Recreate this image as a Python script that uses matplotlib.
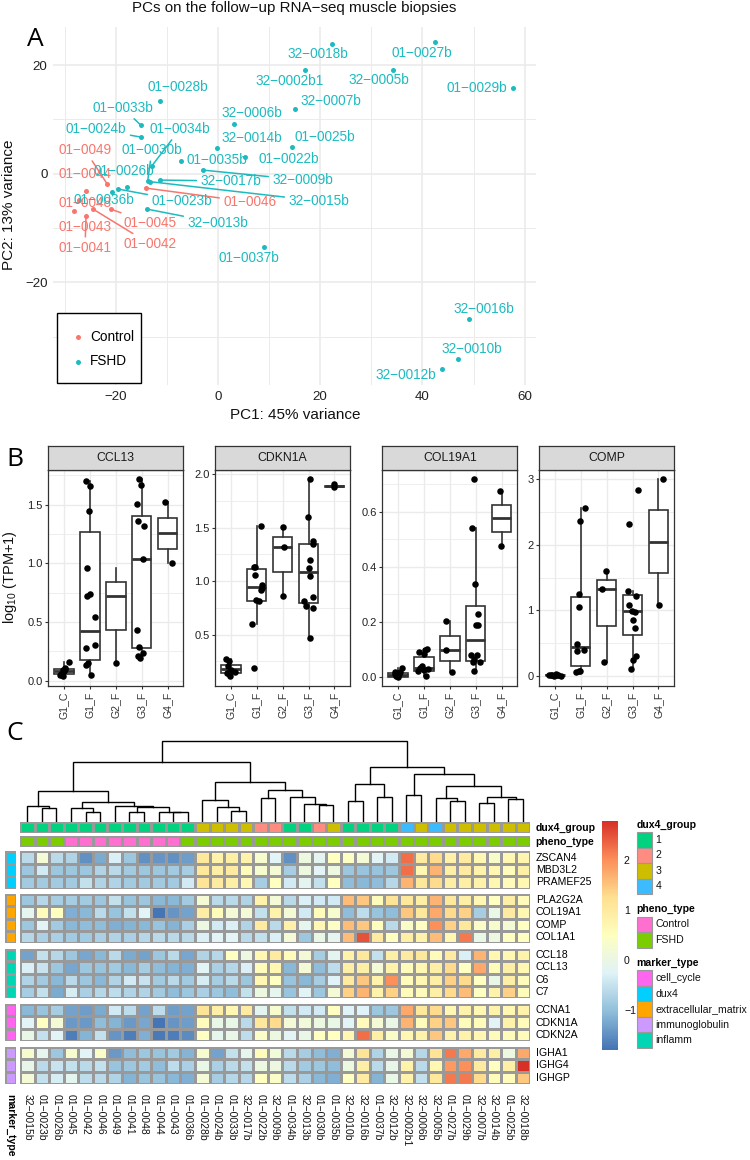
import numpy as np
import matplotlib
matplotlib.use('Agg')
import matplotlib.pyplot as plt
from matplotlib.colors import LinearSegmentedColormap, ListedColormap, BoundaryNorm
from matplotlib.patches import Rectangle
from matplotlib.ticker import MultipleLocator

W, H = 750, 1160
plt.rcParams['font.family'] = ['Liberation Sans', 'DejaVu Sans']
plt.rcParams['mathtext.default'] = 'regular'

# panel A
control_ids = ['01-0049', '01-0044', '01-0048', '01-0043', '01-0041', '01-0042', '01-0045', '01-0046']
control_pc1 = [-21.69, -25.8, -27.1, -28.08, -25.8, -24.36, -20.85, -14.14]
control_pc2 = [-1.84, -3.19, -4.85, -6.81, -7.79, -6.56, -6.56, -2.64]
fshd_ids = ['01-0028b', '01-0033b', '01-0024b', '01-0034b', '01-0030b', '01-0026b', '01-0035b',
            '32-0006b', '32-0014b', '01-0025b', '01-0022b', '32-0009b', '32-0017b', '32-0015b',
            '01-0023b', '32-0013b', '01-0036b', '01-0037b', '32-0018b', '32-0002b1', '32-0007b',
            '32-0005b', '01-0027b', '01-0029b', '32-0016b', '32-0010b', '32-0012b']
fshd_pc1 = [-11.34, -15.05, -15.11, -12.9, -13.75, -17.85, -7.17, 3.06, -0.26, 14.53, 5.34, -3.0, -11.27,
            -13.22, -19.54, -13.94, -20.78, 8.93, 22.3, 17.0, 15.1, 34.2, 42.5, 57.7, 49.1, 46.9, 43.75]
fshd_pc2 = [13.44, 8.9, 6.75, 1.47, -1.35, -2.52, 2.27, 9.14, 4.66, 4.85, 3.0, 0.67, -1.17,
            -1.47, -2.82, -6.5, -3.31, -13.5, 23.9, 19.1, 11.9, 19.1, 24.2, 15.7, -26.8, -34.2, -36.0]

# where ggrepel left the labels, in image pixels
label_px = {
    '01-0049': (85, 150), '01-0044': (85, 174), '01-0048': (85, 203), '01-0043': (85, 227),
    '01-0041': (85, 248), '01-0042': (150, 244), '01-0045': (150, 223), '01-0046': (250, 202),
    '01-0028b': (178, 87), '01-0033b': (123, 108), '01-0024b': (96, 129), '01-0034b': (180, 129),
    '01-0030b': (152, 150), '01-0026b': (124, 171), '01-0035b': (217, 160), '32-0006b': (252, 113),
    '32-0014b': (252, 138), '01-0025b': (325, 137), '01-0022b': (289, 159), '32-0009b': (303, 180),
    '32-0017b': (231, 181), '32-0015b': (319, 201), '01-0023b': (182, 201), '32-0013b': (218, 223),
    '01-0036b': (104, 200), '01-0037b': (249, 258), '32-0018b': (318, 54), '32-0002b1': (290, 81),
    '32-0007b': (331, 101), '32-0005b': (379, 80), '01-0027b': (422, 53), '01-0029b': (477, 88),
    '32-0016b': (484, 309), '32-0010b': (472, 349), '32-0012b': (406, 375),
}
with_segment = ['01-0049', '01-0041', '01-0042', '01-0045', '01-0046', '01-0033b', '01-0024b', '01-0034b',
                '01-0030b', '32-0009b', '32-0017b', '32-0015b', '01-0023b', '32-0013b']

# panel B
groups = ['G1_C', 'G1_F', 'G2_F', 'G3_F', 'G4_F']
genes = ['CCL13', 'CDKN1A', 'COL19A1', 'COMP']
# box stats per group: low whisker, q1, median, q3, high whisker
ccl13_stats = [(0.04, 0.057, 0.08, 0.10, 0.16), (0.045, 0.18, 0.42, 1.27, 1.70), (0.15, 0.43, 0.72, 0.84, 0.96),
               (0.19, 0.275, 1.035, 1.40, 1.72), (1.0, 1.125, 1.26, 1.39, 1.52)]
ccl13_x = [1.19, 1.03, 0.95, 1.0, 0.87, 0.95, 0.85, 1.04, 1.835, 1.99, 1.96, 1.99, 2.18, 2.2, 1.835, 1.85, 1.91, 2.04,
           1.9, 1.9, 3.0, 3.91, 3.97, 3.81, 3.85, 4.1, 4.06, 3.82, 3.89, 4.05, 3.87, 3.92, 4.91, 5.18]
ccl13_y = [0.16, 0.11, 0.09, 0.08, 0.057, 0.04, 0.045, 0.097, 1.70, 1.66, 1.45, 0.74, 0.54, 0.305, 0.28, 0.13, 0.15, 0.045,
           0.96, 0.72, 0.15, 1.72, 1.67, 1.51, 1.36, 1.32, 1.035, 0.43, 0.29, 0.24, 0.21, 0.19, 1.52, 1.0]
cdkn1a_stats = [(0.115, 0.146, 0.18, 0.22, 0.27), (0.60, 0.815, 0.945, 1.11, 1.51), (0.86, 1.085, 1.315, 1.41, 1.505),
                (0.465, 0.795, 1.085, 1.35, 1.95), (1.88, 1.878, 1.885, 1.892, 1.91)]
cdkn1a_x = [0.82, 0.91, 0.885, 1.17, 1.0, 0.85, 0.97, 0.91, 2.17, 1.9, 1.95, 1.94, 2.19, 2.2, 2.17, 1.96, 2.1, 1.83, 1.9,
            3.03, 3.07, 3.0, 4.04, 3.99, 4.19, 4.19, 4.06, 4.0, 4.04, 4.18, 3.84, 3.89, 4.18, 4.04, 5.0, 5.0]
cdkn1a_y = [0.27, 0.25, 0.21, 0.155, 0.17, 0.14, 0.115, 0.13, 1.51, 1.13, 1.13, 1.055, 0.96, 0.935, 0.92, 0.825, 0.81, 0.60, 0.186,
            1.505, 1.315, 0.86, 1.95, 1.6, 1.37, 1.35, 1.195, 1.125, 1.05, 0.85, 0.81, 0.765, 0.75, 0.465, 1.91, 1.88]
col19a1_stats = [(0.0, 0.0, 0.005, 0.013, 0.03), (0.002, 0.022, 0.03, 0.07, 0.10), (0.018, 0.057, 0.097, 0.149, 0.202),
                 (0.02, 0.058, 0.133, 0.256, 0.54), (0.476, 0.525, 0.575, 0.625, 0.675)]
col19a1_x = [0.87, 1.15, 0.96, 1.0, 1.05, 0.9, 0.92, 1.09, 2.12, 1.83, 2.0, 2.05, 1.92, 1.79, 1.85, 1.99, 2.15, 2.08,
             2.86, 2.86, 3.09, 3.95, 3.86, 3.97, 4.09, 4.0, 4.08, 3.81, 4.03, 3.92, 4.17, 3.88, 3.95, 4.92, 4.96]
col19a1_y = [0.016, 0.03, 0.004, 0.0, 0.01, 0.01, 0.001, 0.016, 0.10, 0.09, 0.082, 0.095, 0.04, 0.022, 0.03, 0.025, 0.028, 0.002,
             0.202, 0.097, 0.018, 0.718, 0.54, 0.337, 0.229, 0.188, 0.188, 0.08, 0.08, 0.064, 0.052, 0.052, 0.02, 0.675, 0.476]
comp_stats = [(0.0, 0.008, 0.015, 0.02, 0.03), (0.056, 0.15, 0.44, 1.2, 2.56), (0.215, 0.765, 1.32, 1.46, 1.6),
              (0.10, 0.62, 0.985, 1.24, 1.30), (1.09, 1.57, 2.05, 2.53, 3.01)]
comp_x = [0.77, 0.9, 1.03, 1.09, 1.22, 0.97, 0.87, 1.12, 2.18, 1.97, 1.95, 1.95, 1.85, 1.86, 2.12, 1.95, 1.81, 1.97,
          2.97, 2.82, 2.88, 4.2, 3.86, 3.83, 4.15, 3.86, 3.97, 4.08, 4.03, 4.1, 4.15, 4.0, 3.94, 5.19, 5.03]
comp_y = [0.015, 0.02, 0.03, 0.01, 0.005, 0.0, 0.01, 0.02, 2.56, 2.37, 1.25, 1.05, 0.487, 0.38, 0.40, 0.077, 0.056, 0.08,
          1.6, 1.32, 0.215, 2.84, 2.32, 1.30, 1.22, 1.09, 0.985, 0.98, 0.86, 0.73, 0.31, 0.24, 0.10, 3.01, 1.09]

# panel C
samples = ['32-0015b', '01-0023b', '01-0026b', '01-0045', '01-0042', '01-0046', '01-0049', '01-0041', '01-0048',
           '01-0044', '01-0043', '01-0036b', '01-0028b', '01-0024b', '01-0033b', '32-0017b', '01-0022b', '32-0009b',
           '01-0034b', '32-0013b', '01-0030b', '01-0035b', '32-0010b', '32-0016b', '01-0037b', '32-0012b', '32-0002b1',
           '32-0006b', '32-0005b', '01-0027b', '01-0029b', '32-0007b', '32-0014b', '01-0025b', '32-0018b']
dux4_group = [1] * 12 + [3, 3, 3, 3, 2, 2, 1, 1, 2, 3, 1, 1, 1, 1, 4, 3, 4, 3, 3, 3, 3, 3, 3]
pheno_type = ['FSHD'] * 3 + ['Control'] * 8 + ['FSHD'] * 24
ZSCAN4 = [-.6, .2, -.6, -.7, -1.5, -1.2, -.3, -.9, -1.5, -1.45, -1.5, -1.35, 1.1, .8, .9, .8, .3, -.2,
          -1.5, .1, -.15, .5, .45, .2, -.2, -.4, 2.3, 1.0, 1.3, .85, 1.0, .7, .35, .7, .75]
MBD3L2 = [-.9, -.4, -.9, -.9, -.9, -.7, -.6, -.85, -.9, -.9, -.85, -.8, 1.1, .9, 1.0, .6, .3, .2,
          -.8, .1, -.2, .1, -.9, -.95, -.95, -.9, 2.3, .7, 1.7, .9, 1.0, .8, .7, .6, .9]
PRAMEF25 = [-.85, -.85, -.85, -.85, -.5, -.7, -.7, -.85, -.85, -.85, -.85, -.4, 1.2, 1.0, .9, .7, -.8, .5,
            -.4, -.15, -.5, .5, -1.0, -1.05, -1.0, -.65, 1.7, 1.1, 1.3, .9, .9, .8, .7, .6, .7]
PLA2G2A = [-.9, -.65, -.8, -.8, -.85, -.9, -.5, -.95, -.9, -1.05, -1.05, -.85, .2, -.6, -.6, -.7, .8, .2,
           -.6, -.3, -.4, -.4, 1.6, 1.5, .6, 1.2, 1.1, .9, 1.7, 1.1, .9, .7, .5, .9, .6]
COL19A1 = [-.1, .6, .5, -1.15, -1.05, -.6, -.95, -.5, -.2, -1.75, -1.45, -1.3, .95, .6, .2, .2, -.5, .8,
           .2, -.4, .6, .3, -1.0, -.55, -.95, -1.0, 1.5, 1.1, 1.8, 1.3, 1.4, -.8, .0, 1.0, .7]
COMP = [-.9, -.2, -.85, -1.05, -1.0, -1.0, -1.15, -1.1, -1.05, -.95, -1.1, -.75, .1, -.4, -.3, -.7, 1.0, -.6,
        .85, -.1, .7, .45, 1.6, 1.5, .55, -.6, .4, .5, 2.0, 1.4, 1.1, .4, .3, .2, .5]
COL1A1 = [-.65, -.75, -.75, -.85, -.85, -.75, -.7, -.75, -.65, -.6, -.6, -.6, -.3, -.2, -.2, -.6, -.5, -.3,
          .2, -.9, -.0, -.1, 1.6, 2.5, 1.0, .5, .9, .8, 1.6, .7, 2.2, .0, .1, .5, .5]
CCL18 = [-1.3, -.5, -.65, -.9, -1.25, -1.05, -.6, -1.2, -1.3, -.9, -.6, -1.25, -.7, -.65, .5, .1, .7, 1.0,
         .6, .2, -.8, -.15, .8, 1.1, -.5, .9, 1.0, 1.1, .6, 1.0, -.3, 1.7, .7, .7, .8]
CCL13 = [-.3, -.45, -.9, -1.25, -.9, -.95, -.85, -1.05, -.8, -1.0, -1.1, -1.15, -.2, -.75, -.65, -.3, .6, .7,
         -1.05, .2, -1.0, -.55, .9, .9, .2, .8, .6, .7, .9, 1.3, .5, 1.8, .6, .9, .7]
C6 = [-.7, -.85, -1.05, -.6, -.9, -1.05, -.7, -.4, -.45, -.85, -.6, -.85, -.35, -.8, -.6, -.9, .7, .5,
      -.95, -1.05, -.8, -.25, 1.0, 1.5, .8, 2.0, .6, .7, .9, 1.4, 1.3, .5, .0, .9, .6]
C7 = [-.8, -.5, -1.2, -.35, -.75, -.65, -.55, -.7, -.7, -.85, -1.0, -.9, -.75, -.9, -1.0, -.5, .1, -.1,
      -.95, -.2, -.9, .2, 1.4, 1.7, .8, 1.4, .6, .6, .9, 1.3, 1.6, .5, .8, 1.4, .6]
CCNA1 = [-1.05, -.95, -.8, -1.3, -1.35, -1.2, -.4, -.55, -1.3, -.55, -1.35, -1.3, 1.2, .9, .7, 1.0, -.15, .3,
         -.5, -.4, -.4, .5, -.25, -.25, -.9, -.9, 1.8, 1.1, 1.3, .7, .8, .7, .8, .7, .8]
CDKN1A = [-.2, .5, .2, -1.4, -1.4, -1.0, -1.1, -1.4, -1.25, -1.75, -1.45, -1.35, .6, .0, .0, -.6, 1.1, 1.3,
          .2, .15, .1, .0, -.2, .6, .2, .0, 1.7, .6, 1.4, 1.5, .6, .6, -.2, .8, .6]
CDKN2A = [.0, -.5, -.2, -1.65, -1.1, -.5, -1.45, -1.65, -1.15, -1.7, -1.65, -1.55, .5, -.1, .0, -.55, .4, .1,
          -.2, .0, .5, .5, .7, 2.3, .9, .4, .7, .8, 1.5, .8, .8, .7, .6, .6, .6]
IGHA1 = [.3, -.1, -.9, .3, -.2, .4, -1.4, -1.0, -.9, -.95, -.85, -1.1, .3, -1.3, -.5, -.1, .6, .15,
         -.6, -.8, -1.0, -1.15, .2, 1.2, -.7, .0, .2, -.65, 1.2, 2.2, 1.8, 1.0, .9, .1, 1.8]
IGHG4 = [-.05, -.6, -.45, -.5, -.6, -.5, -.95, -.9, -.85, -1.0, -.55, -.75, .0, -.75, -.6, -.5, .1, .1,
         -.6, -.85, -.9, -1.0, .1, .9, -.6, -.05, .8, -.6, .7, 1.9, 2.0, 1.0, .5, .9, 2.8]
IGHGP = [.2, -.5, -.35, -.15, -.55, -.6, -.7, -1.1, -.95, -.95, -1.05, -1.15, .2, -.8, -.65, -.65, .5, .4,
         -.55, -.75, -1.05, -1.15, .5, 1.0, -1.1, .0, .8, -.5, 1.1, 2.2, 2.2, 1.3, .6, .6, 1.5]

dux4_block = [('ZSCAN4', ZSCAN4), ('MBD3L2', MBD3L2), ('PRAMEF25', PRAMEF25)]
ecm_block = [('PLA2G2A', PLA2G2A), ('COL19A1', COL19A1), ('COMP', COMP), ('COL1A1', COL1A1)]
inflamm_block = [('CCL18', CCL18), ('CCL13', CCL13), ('C6', C6), ('C7', C7)]
cycle_block = [('CCNA1', CCNA1), ('CDKN1A', CDKN1A), ('CDKN2A', CDKN2A)]
ig_block = [('IGHA1', IGHA1), ('IGHG4', IGHG4), ('IGHGP', IGHGP)]

# dendrogram merges: (height, left, right), ints are column numbers
left_tree = (58.7,
             (30, (14.7, 0, (12.7, 1, 2)),
              (18.7, (12.7, 3, (8.3, 4, 5)), (15, 6, (14, (8.3, 7, 8), (9, 9, (8.3, 10, 11)))))),
             (39, (20.7, 12, (14, 13, (10, 14, 15))),
              (30.5, (22.3, 16, 17), (24, 18, (16.7, 19, (15.7, 20, 21))))))
right_tree = (53.7,
              (36.3, (20, 22, 23), (23.3, 24, 25)),
              (46.7, (25.7, 26, 27),
               (34.7, (22.3, 28, (19.7, 29, 30)), (24, (17.3, 31, 32), (21.7, 33, 34)))))
tree = (79.7, left_tree, right_tree)

RED, TEAL = '#F8766D', '#1DBBC0'
GRID = '#ebebeb'
group_colors = {1: '#00D27F', 2: '#FF8C80', 3: '#CDBE00', 4: '#3DBBFF'}
pheno_colors = {'Control': '#FF6FCF', 'FSHD': '#7CCD00'}
marker_colors = {'cell_cycle': '#FF66F0', 'dux4': '#00CFFF', 'extracellular_matrix': '#FFA500',
                 'immunoglobulin': '#CC99FF', 'inflamm': '#00D6B4'}
heat_vmin, heat_vmax = -1.78, 2.81
heat_cmap = LinearSegmentedColormap.from_list(
    'rdylbu7', ['#4575B4', '#91BFDB', '#E0F3F8', '#FFFFBF', '#FEE090', '#FC8D59', '#D73027'], N=100)


def px_axes(fig, left, top, right, bottom):
    return fig.add_axes([left / W, 1 - bottom / H, (right - left) / W, (bottom - top) / H])


def px_text(fig, x, y, s, **kw):
    kw.setdefault('va', 'center')
    fig.text(x / W, 1 - y / H, s, **kw)


def draw_pca(fig):
    ax = px_axes(fig, 53, 26.7, 536, 385)
    ax.set_xlim(-32.26, 62.2)
    ax.set_ylim(-38.9, 27.07)
    for spine in ax.spines.values():
        spine.set_visible(False)
    ax.xaxis.set_major_locator(MultipleLocator(20))
    ax.xaxis.set_minor_locator(MultipleLocator(10))
    ax.yaxis.set_major_locator(MultipleLocator(20))
    ax.yaxis.set_minor_locator(MultipleLocator(10))
    ax.grid(True, which='major', color=GRID, lw=1.2)
    ax.grid(True, which='minor', color=GRID, lw=0.7)
    ax.set_axisbelow(True)
    ax.tick_params(which='minor', length=0)
    ax.tick_params(which='major', length=0, labelsize=9.6, labelcolor='#222222', pad=4)
    ax.scatter(control_pc1, control_pc2, s=13, color=RED, label='Control', zorder=3, linewidths=0)
    ax.scatter(fshd_pc1, fshd_pc2, s=13, color=TEAL, label='FSHD', zorder=3, linewidths=0)
    for ids, pc1, pc2, col in [(control_ids, control_pc1, control_pc2, RED), (fshd_ids, fshd_pc1, fshd_pc2, TEAL)]:
        for name, x, y in zip(ids, pc1, pc2):
            lx, ly = label_px[name]
            arrow = None
            if name in with_segment:
                arrow = dict(arrowstyle='-', color=col, lw=1.1, shrinkA=1, shrinkB=0)
            ax.annotate(name.replace('-', '\u2212'), xy=(x, y), xytext=(lx, H - ly), textcoords='figure pixels',
                        ha='center', va='center', color=col, fontsize=9.8, arrowprops=arrow, zorder=4)
    frame = Rectangle((57 / W, 1 - 383 / H), 84 / W, 70 / H, transform=fig.transFigure, facecolor='white',
                      edgecolor='black', lw=1.0, zorder=5, clip_on=False)
    ax.add_patch(frame)
    leg = ax.legend(loc='center left', bbox_to_anchor=(71.2 / W, 1 - 349 / H), bbox_transform=fig.transFigure,
                    borderaxespad=0, borderpad=0, frameon=False, fontsize=9.8, labelspacing=0.8,
                    handletextpad=0.38, handlelength=1.0)
    leg.set_zorder(6)
    px_text(fig, 294, 8, 'PCs on the follow\u2212up RNA\u2212seq muscle biopsies', ha='center', fontsize=10.9, color='#111111')
    px_text(fig, 295, 415, 'PC1: 45% variance', ha='center', fontsize=11, color='#111111')
    px_text(fig, 9, 205, 'PC2: 13% variance', ha='center', rotation=90, fontsize=11, color='#111111')
    px_text(fig, 35, 39, 'A', ha='center', fontsize=19, family='Open Sans')


def draw_facet(fig, left, right, gene, stats, xs, ys, ylim, major):
    ax = px_axes(fig, left, 469.5, right, 685.7)
    strip = px_axes(fig, left, 445.6, right, 469.5)
    strip.set_xticks([])
    strip.set_yticks([])
    strip.set_facecolor('#D9D9D9')
    for spine in strip.spines.values():
        spine.set_color('#333333')
        spine.set_linewidth(0.9)
    strip.text(0.5, 0.47, gene, ha='center', va='center', fontsize=8.8, color='#1a1a1a', transform=strip.transAxes)

    bxp_stats = []
    for name, (low, q1, med, q3, high) in zip(groups, stats):
        bxp_stats.append(dict(label=name, whislo=low, q1=q1, med=med, q3=q3, whishi=high, fliers=[]))
    ax.bxp(bxp_stats, positions=range(1, 6), widths=0.75, showcaps=False, showfliers=False, patch_artist=True,
           boxprops=dict(facecolor='white', edgecolor='#333333', lw=1.2),
           medianprops=dict(color='#333333', lw=2.0, solid_capstyle='butt'),
           whiskerprops=dict(color='#333333', lw=1.2), zorder=2)
    ax.scatter(xs, ys, s=22, color='black', zorder=3, linewidths=0)
    ax.set_xlim(0.4, 5.6)
    ax.set_ylim(*ylim)
    ax.yaxis.set_major_locator(MultipleLocator(major))
    ax.yaxis.set_minor_locator(MultipleLocator(major / 2))
    ax.grid(True, which='major', color=GRID, lw=1.0)
    ax.grid(True, which='minor', axis='y', color=GRID, lw=0.6)
    ax.set_axisbelow(True)
    ax.tick_params(which='minor', length=0)
    ax.tick_params(which='major', axis='y', length=2.5, width=0.8, color='#333333', labelsize=8, labelcolor='#222222', pad=1.5)
    ax.tick_params(which='major', axis='x', length=2.5, width=0.8, color='#333333', labelsize=7.6, labelcolor='#333333',
                   labelrotation=90, pad=2)
    for spine in ax.spines.values():
        spine.set_color('#333333')
        spine.set_linewidth(0.9)
    return ax


def tree_lines(ax, node):
    # returns x centre of a node and draws its bracket
    if isinstance(node, int):
        return node + 0.5, 0
    height, left, right = node
    x1, h1 = tree_lines(ax, left)
    x2, h2 = tree_lines(ax, right)
    ax.plot([x1, x1, x2, x2], [h1, height, height, h2], color='black', lw=1.0, solid_joinstyle='miter', clip_on=False)
    return (x1 + x2) / 2, height


def annot_row(fig, top, bottom, labels, colors, name):
    ax = px_axes(fig, HEAT_L, top, HEAT_R, bottom)
    keys = list(colors)
    codes = np.array([[keys.index(v) for v in labels]])
    cmap = ListedColormap([colors[k] for k in keys])
    norm = BoundaryNorm(np.arange(len(keys) + 1) - 0.5, len(keys))
    ax.pcolormesh(codes, cmap=cmap, norm=norm, edgecolors='#999999', linewidth=0.8)
    ax.axis('off')
    px_text(fig, 535.7, (top + bottom) / 2, name, fontsize=7.6, fontweight='bold', color='black')


HEAT_L, HEAT_R = 20, 530.3


def draw_block(fig, top, bottom, block, marker):
    ax = px_axes(fig, HEAT_L, top, HEAT_R, bottom)
    rows = np.array([vals for _, vals in block])
    ax.pcolormesh(rows, cmap=heat_cmap, vmin=heat_vmin, vmax=heat_vmax, edgecolors='#999999', linewidth=0.8)
    ax.set_ylim(len(block), 0)
    ax.axis('off')
    step = (bottom - top) / len(block)
    for i, (gene, _) in enumerate(block):
        px_text(fig, 535.7, top + step * (i + 0.5), gene, fontsize=7.6, color='black')
    side = px_axes(fig, 5, top, 16, bottom)
    side.pcolormesh(np.zeros((len(block), 1)), cmap=ListedColormap([marker_colors[marker]]),
                    edgecolors='#999999', linewidth=0.8)
    side.axis('off')


def legend_swatches(fig, title, title_y, top, colors):
    px_text(fig, 636.7, title_y, title, fontsize=7.6, fontweight='bold')
    for i, (name, col) in enumerate(colors.items()):
        y = top + i * 15.5
        fig.add_artist(Rectangle((636.7 / W, 1 - (y + 15.5) / H), 15.6 / W, 15.5 / H, facecolor=col,
                                 edgecolor='#999999', lw=0.8, transform=fig.transFigure))
        px_text(fig, 655.3, y + 7.75, str(name), fontsize=7.6, color='#111111')


def draw_heatmap(fig):
    dend = px_axes(fig, HEAT_L, 741, HEAT_R, 820.7)
    dend.set_xlim(0, len(samples))
    dend.set_ylim(0, 79.7)
    tree_lines(dend, tree)
    dend.axis('off')
    annot_row(fig, 821.7, 833.3, dux4_group, group_colors, 'dux4_group')
    annot_row(fig, 835.7, 847.3, pheno_type, pheno_colors, 'pheno_type')
    draw_block(fig, 851.3, 888.7, dux4_block, 'dux4')
    draw_block(fig, 893.7, 943.3, ecm_block, 'extracellular_matrix')
    draw_block(fig, 948.7, 998.3, inflamm_block, 'inflamm')
    draw_block(fig, 1004, 1041, cycle_block, 'cell_cycle')
    draw_block(fig, 1046.7, 1084, ig_block, 'immunoglobulin')
    cell = (HEAT_R - HEAT_L) / len(samples)
    for i, name in enumerate(samples):
        px_text(fig, HEAT_L + cell * (i + 0.5), 1094, name.replace('-', '\u2212'), rotation=270, ha='center', va='top',
                fontsize=7.5, color='#111111')
    px_text(fig, 10, 1094, 'marker_type', rotation=270, ha='center', va='top', fontsize=7.6, fontweight='bold')

    cbar = px_axes(fig, 602.3, 820.7, 617.7, 1050)
    cbar.imshow(np.linspace(heat_vmax, heat_vmin, 100)[:, None], cmap=heat_cmap, vmin=heat_vmin, vmax=heat_vmax,
                aspect='auto', extent=(0, 1, heat_vmin, heat_vmax))
    cbar.axis('off')
    for tick, y in zip(['2', '1', '0', '\u22121'], [861, 911, 961, 1011]):
        px_text(fig, 624, y, tick, fontsize=7.6, color='#111111')
    legend_swatches(fig, 'dux4_group', 825, 832, group_colors)
    legend_swatches(fig, 'pheno_type', 909.3, 916.7, pheno_colors)
    legend_swatches(fig, 'marker_type', 963, 970.3, marker_colors)
    px_text(fig, 15, 733, 'C', ha='center', fontsize=19, family='Open Sans')


fig = plt.figure(figsize=(W / 100, H / 100), dpi=100)
draw_pca(fig)
draw_facet(fig, 48.3, 183.3, genes[0], ccl13_stats, ccl13_x, ccl13_y, (-0.043, 1.80), 0.5)
draw_facet(fig, 215.3, 350, genes[1], cdkn1a_stats, cdkn1a_x, cdkn1a_y, (0.0234, 2.042), 0.5)
draw_facet(fig, 382.3, 517.3, genes[2], col19a1_stats, col19a1_x, col19a1_y, (-0.033, 0.753), 0.2)
draw_facet(fig, 539.3, 674, genes[3], comp_stats, comp_x, comp_y, (-0.148, 3.15), 1)
px_text(fig, 10, 577, 'log$_{10}$ (TPM+1)', ha='center', rotation=90, fontsize=10.5, color='#111111')
px_text(fig, 15, 459, 'B', ha='center', fontsize=19, family='Open Sans')
draw_heatmap(fig)
fig.savefig('out.png', dpi=100)
